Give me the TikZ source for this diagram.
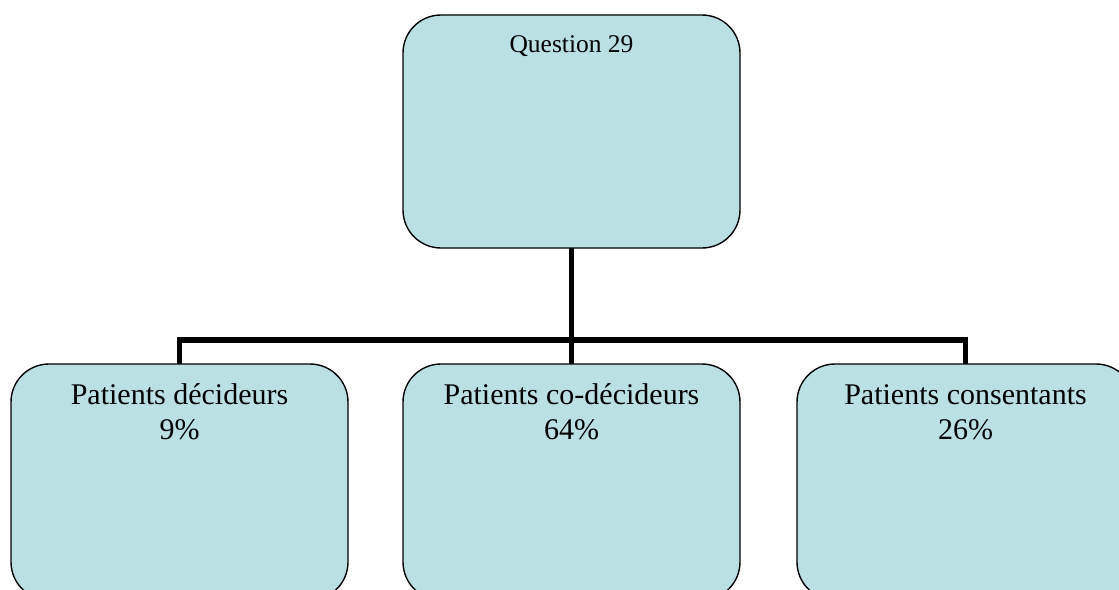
\documentclass[tikz,border=0pt]{standalone}
\usepackage{fontspec}
\setmainfont{Liberation Serif}
\usetikzlibrary{backgrounds}
\definecolor{boxfill}{RGB}{186,224,228}
\begin{document}
\begin{tikzpicture}[x=1pt,y=-1pt,
  box/.style={draw=black, line width=1.4pt, fill=boxfill, rounded corners=38pt,
    minimum width=337pt, inner sep=0pt, outer sep=0pt, anchor=north west},
  conn/.style={line width=5.5pt, line join=miter},
  toplbl/.style={font=\fontsize{25.5}{30}\selectfont, anchor=base, inner sep=0pt},
  lbl/.style={font=\fontsize{30}{34.5}\selectfont, align=center, anchor=base, inner sep=0pt}]
\useasboundingbox (0,0) rectangle (1119,589);
\clip (0,0) rectangle (1119,589);

% boxes
\node[box, minimum height=233pt] (q) at (403,15) {};
\node[box, minimum height=236pt] (a) at (11,364) {};
\node[box, minimum height=236pt] (b) at (403,364) {};
\node[box, minimum height=236pt] (c) at (797,364) {};
\coordinate (bus) at (0,340);

% tree connectors, behind the boxes
\begin{scope}[on background layer]
\draw[conn] (a.north) -- (a.north |- bus) -- (c.north |- bus) -- (c.north);
\draw[conn] (q.south) -- (b.north);
\end{scope}

% labels (base anchor sits on the last line)
\node[toplbl] at ([yshift=-37pt]q.north) {Question 29};
\node[lbl] at ([yshift=-75pt]a.north) {Patients décideurs\\9\%};
\node[lbl] at ([yshift=-75pt]b.north) {Patients co-décideurs\\64\%};
\node[lbl] at ([yshift=-75pt]c.north) {Patients consentants\\26\%};
\end{tikzpicture}
\end{document}
